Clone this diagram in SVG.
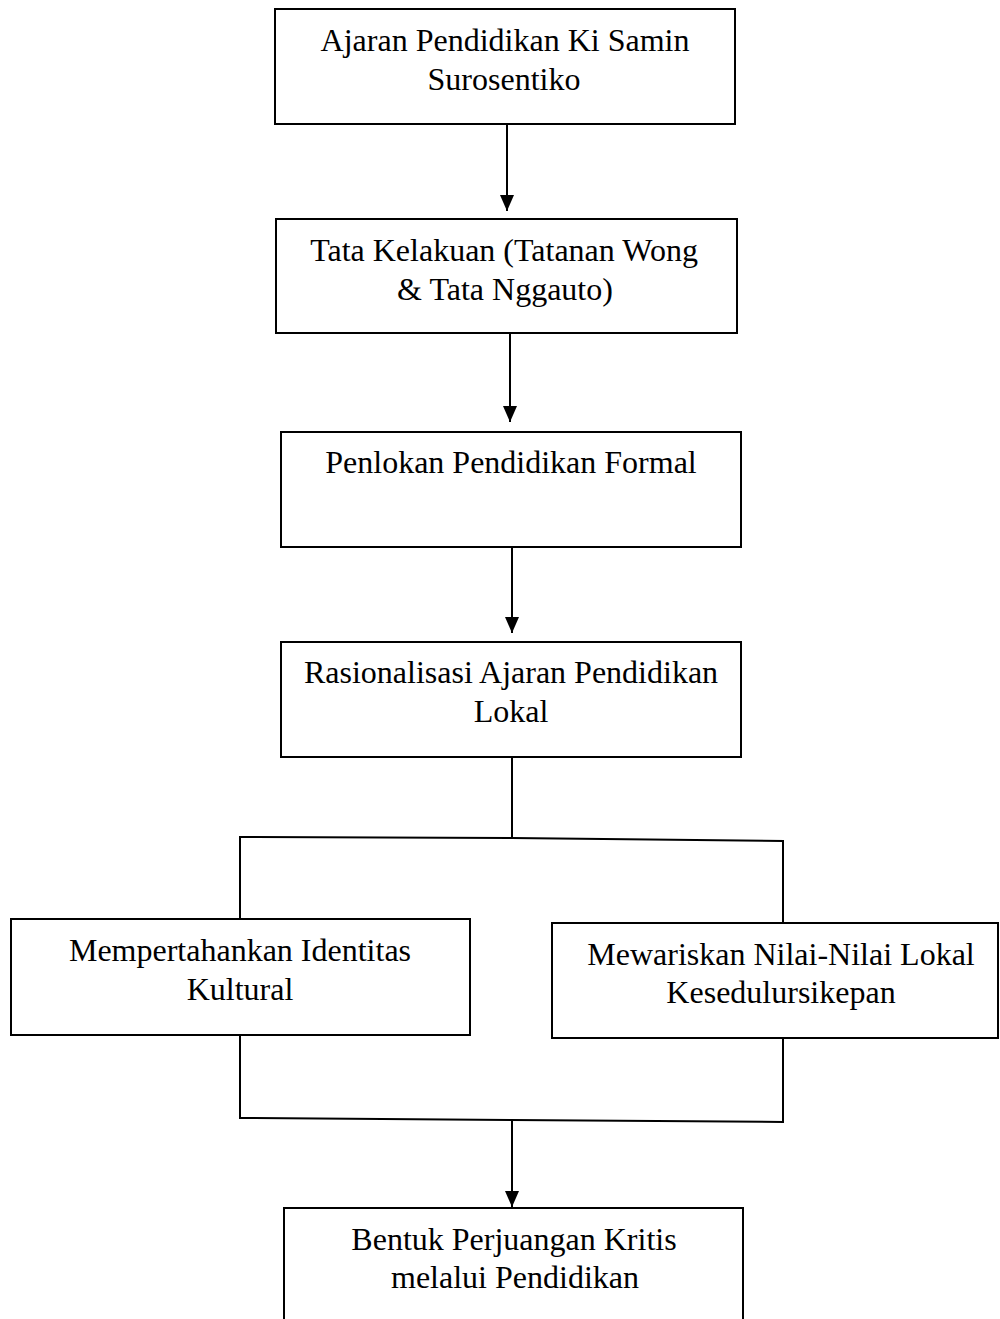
<svg xmlns="http://www.w3.org/2000/svg" width="1000" height="1319" viewBox="0 0 1000 1319">
  <style>
    .box { fill: #ffffff; stroke: #000000; stroke-width: 2; }
    .lbl { font-family: "Liberation Serif", "Times New Roman", serif; font-size: 32px; fill: #000000; text-anchor: middle; }
    .conn { fill: none; stroke: #000000; stroke-width: 2; }
  </style>
  <defs>
    <marker id="arrow" viewBox="0 0 16 14" refX="16" refY="7" markerWidth="16" markerHeight="14" markerUnits="userSpaceOnUse" orient="auto">
      <path d="M0,0 L16,7 L0,14 Z" fill="#000000"/>
    </marker>
  </defs>
  <rect width="1000" height="1319" fill="#ffffff"/>

  <g id="connectors">
    <line class="conn" x1="507" y1="124" x2="507" y2="211" marker-end="url(#arrow)"/>
    <line class="conn" x1="510" y1="333" x2="510" y2="422" marker-end="url(#arrow)"/>
    <line class="conn" x1="512" y1="547" x2="512" y2="633" marker-end="url(#arrow)"/>
    <polyline class="conn" points="512,757 512,838"/>
    <polyline class="conn" points="240,919 240,837 512,838 783,841 783,923"/>
    <polyline class="conn" points="240,1035 240,1118 512,1120 783,1122 783,1038"/>
    <line class="conn" x1="512" y1="1120" x2="512" y2="1207" marker-end="url(#arrow)"/>
  </g>

  <g id="node1">
    <rect class="box" x="275" y="9" width="460" height="115"/>
    <text class="lbl" x="505" y="51">Ajaran Pendidikan Ki Samin</text>
    <text class="lbl" x="504" y="90">Surosentiko</text>
  </g>
  <g id="node2">
    <rect class="box" x="276" y="219" width="461" height="114"/>
    <text class="lbl" x="504" y="261">Tata Kelakuan (Tatanan Wong</text>
    <text class="lbl" x="505" y="300">&amp; Tata Nggauto)</text>
  </g>
  <g id="node3">
    <rect class="box" x="281" y="432" width="460" height="115"/>
    <text class="lbl" x="511" y="473">Penlokan Pendidikan Formal</text>
  </g>
  <g id="node4">
    <rect class="box" x="281" y="642" width="460" height="115"/>
    <text class="lbl" x="511" y="683">Rasionalisasi Ajaran Pendidikan</text>
    <text class="lbl" x="511" y="722">Lokal</text>
  </g>
  <g id="node5">
    <rect class="box" x="11" y="919" width="459" height="116"/>
    <text class="lbl" x="240" y="961">Mempertahankan Identitas</text>
    <text class="lbl" x="240" y="1000">Kultural</text>
  </g>
  <g id="node6">
    <rect class="box" x="552" y="923" width="446" height="115"/>
    <text class="lbl" x="781" y="965">Mewariskan Nilai-Nilai Lokal</text>
    <text class="lbl" x="781" y="1003">Kesedulursikepan</text>
  </g>
  <g id="node7">
    <rect class="box" x="284" y="1208" width="459" height="120"/>
    <text class="lbl" x="514" y="1250">Bentuk Perjuangan Kritis</text>
    <text class="lbl" x="515" y="1288">melalui Pendidikan</text>
  </g>
</svg>
